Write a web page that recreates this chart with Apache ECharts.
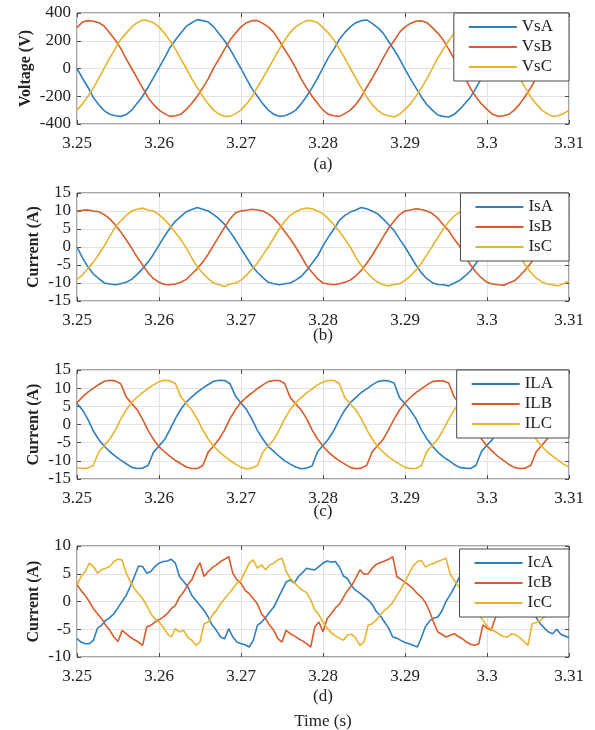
<!DOCTYPE html>
<html><head><meta charset="utf-8">
<script src="https://cdn.jsdelivr.net/npm/echarts@6/dist/echarts.min.js"></script>
<style>html,body{margin:0;padding:0;background:#fff}#c{width:595px;height:730px}</style>
</head><body><div id="c"></div>
<script>
// ---- sampling of the recorded traces ----
const tStart = 3.25;
const stepABC = 0.02 / 30;   // panels (a)-(c): 30 samples per 50 Hz cycle
const stepD = 0.0005;        // panel (d)
const xTicks = ['3.25','3.26','3.27','3.28','3.29','3.3','3.31'];

// ---- (a) source voltages (V) ----
const VsA = [0,-70,-135,-210,-262,-305,-330,-340,-345,-332,-300,-250,-200,-135,-65,5,75,150,205,255,305,330,352,345,335,300,250,200,140,70,
0,-75,-145,-200,-255,-300,-330,-345,-340,-325,-300,-255,-200,-140,-70,5,80,140,210,260,300,330,345,350,325,295,255,195,135,70,
-5,-75,-140,-205,-260,-300,-335,-345,-350,-330,-295,-250,-205,-140,-70,0,75,140,200,255,300,330,345,345,325,300,260,200,140,75,30];
const VsB = [295,335,345,340,330,305,255,205,145,70,0,-70,-140,-210,-260,-300,-325,-345,-340,-330,-295,-250,-200,-140,-75,5,70,140,205,255,
300,330,345,345,325,300,260,200,135,75,5,-75,-140,-200,-250,-300,-330,-340,-345,-325,-300,-260,-205,-135,-70,0,75,145,200,260,
300,325,340,345,330,295,255,205,140,70,0,-70,-145,-205,-255,-295,-330,-345,-340,-330,-300,-255,-200,-140,-70,5,70,140,205,255,290];
const VsC = [-300,-255,-200,-140,-70,5,75,145,210,255,300,330,350,345,330,300,255,200,140,70,0,-75,-140,-200,-255,-300,-330,-345,-345,-325,
-300,-255,-205,-135,-70,0,70,140,205,260,300,325,345,345,330,295,255,205,140,75,0,-70,-140,-205,-260,-300,-330,-340,-350,-330,
-295,-255,-200,-140,-75,0,75,140,200,255,300,330,345,340,330,300,250,200,140,70,5,-70,-140,-205,-255,-300,-325,-345,-340,-325,-300];

// ---- (b) source currents (A) ----
const IsA = [0,-3.0,-5.5,-7.5,-8.8,-10.0,-10.3,-10.5,-10.2,-9.8,-9.0,-7.6,-6.0,-4.2,-2.0,0.5,3.0,5.2,7.2,8.5,9.8,10.4,11.0,10.5,10.0,9.0,7.8,6.3,4.2,2.0,
-0.5,-2.8,-5.2,-7.0,-8.5,-9.8,-10.2,-10.5,-10.2,-10.0,-9.2,-8.2,-6.5,-4.5,-2.5,0.3,2.8,5.0,7.4,8.8,9.7,10.3,11.0,10.6,10.0,9.2,7.8,6.2,4.6,2.2,
0,-2.5,-5.0,-7.2,-8.8,-9.9,-10.4,-10.5,-10.8,-10.0,-9.3,-8.0,-6.6,-4.5,-2.2,0.2,2.6,5.2,7.0,8.6,9.8,10.4,10.8,10.5,10.0,9.4,8.0,6.4,4.4,2.4,0.2];
const IsB = [10.0,10.2,10.3,10.0,9.8,9.0,7.8,6.2,4.2,2.0,-0.3,-2.8,-5.0,-7.2,-8.8,-9.8,-10.4,-10.5,-10.3,-9.8,-9.0,-7.5,-6.0,-4.2,-2.0,0.5,3.0,5.5,7.8,9.5,
10.0,10.2,10.5,10.3,10.0,9.2,8.0,6.3,4.3,2.3,0,-2.5,-5.2,-7.0,-8.8,-10.0,-10.3,-10.5,-10.2,-9.8,-9.2,-8.0,-6.5,-4.5,-2.3,0.2,2.8,5.2,7.2,9.0,
10.0,10.3,10.6,10.4,10.0,9.3,8.0,6.2,4.5,2.2,0.2,-2.6,-5.0,-7.0,-8.6,-9.8,-10.3,-10.5,-10.6,-10.0,-9.4,-8.0,-6.4,-4.5,-2.3,0,2.6,5.0,7.0,8.6,9.7];
const IsC = [-9.0,-7.8,-6.0,-4.2,-2.0,0.3,3.0,5.5,7.3,8.8,10.0,10.5,10.8,10.3,10.0,9.0,7.6,6.0,4.0,2.0,-0.3,-3.0,-5.5,-7.2,-8.8,-10.0,-10.5,-11.0,-10.3,-10.0,
-9.2,-7.8,-6.2,-4.5,-2.2,0,2.5,5.0,7.2,8.8,9.8,10.5,10.8,10.6,10.0,9.2,7.8,6.2,4.3,2.2,0,-2.8,-5.2,-7.0,-8.6,-9.8,-10.5,-10.8,-10.4,-10.2,
-9.3,-8.0,-6.4,-4.5,-2.2,0.2,2.6,5.0,7.0,8.6,9.7,10.3,10.6,10.5,10.2,9.4,8.0,6.4,4.5,2.3,0,-2.6,-5.0,-7.0,-8.6,-9.7,-10.3,-10.5,-10.8,-10.2,-9.4];

// ---- (c) load currents (A) ----
const ILA = [5.8,4.0,1.4,-1.8,-4.2,-6.0,-7.5,-8.7,-9.8,-10.8,-11.8,-12.1,-12.0,-11.3,-7.6,-5.9,-4.2,-1.4,1.6,4.2,6.2,7.6,8.9,10.0,11.0,11.9,12.2,12.1,11.2,7.8,
5.9,4.1,1.5,-1.6,-4.0,-6.1,-7.4,-8.8,-10.0,-10.9,-11.7,-12.2,-12.0,-11.4,-7.5,-5.8,-4.0,-1.6,1.4,4.0,6.0,7.4,8.8,9.8,10.9,11.8,12.1,12.0,11.4,7.4,
5.7,3.9,1.6,-1.5,-3.9,-5.9,-7.6,-8.9,-9.9,-11.0,-11.8,-12.0,-12.1,-11.2,-7.4,-5.7,-4.1,-1.5,1.5,4.1,6.0,7.5,8.7,9.9,10.8,11.7,12.1,12.0,11.3,7.6,5.8];
const ILB = [6.0,7.6,8.9,10.0,11.0,11.9,12.2,12.0,11.2,7.6,5.8,4.1,1.4,-1.6,-4.1,-6.1,-7.5,-8.8,-9.9,-10.8,-11.7,-12.1,-12.1,-11.3,-7.6,-5.9,-4.0,-1.5,1.6,4.1,
6.1,7.5,8.7,9.9,10.9,11.8,12.1,12.1,11.3,7.4,5.7,4.0,1.6,-1.5,-4.0,-6.0,-7.6,-8.9,-10.0,-10.9,-11.8,-12.2,-12.0,-11.2,-7.5,-5.8,-4.1,-1.4,1.5,4.0,
5.9,7.5,8.8,9.8,10.9,11.8,12.0,12.0,11.4,7.5,5.9,4.0,1.5,-1.5,-4.0,-5.9,-7.4,-8.8,-9.9,-11.0,-11.8,-12.1,-12.0,-11.3,-7.5,-5.8,-4.0,-1.5,1.5,4.0,6.0];
const ILC = [-11.9,-12.1,-12.0,-11.2,-7.5,-5.8,-4.0,-1.6,1.5,4.0,6.1,7.5,8.8,9.9,10.9,11.8,12.2,12.0,11.3,7.6,5.8,4.0,1.5,-1.5,-4.0,-6.0,-7.5,-8.8,-9.9,-10.9,
-11.8,-12.2,-12.0,-11.3,-7.6,-5.9,-4.1,-1.5,1.6,4.1,6.0,7.4,8.7,9.8,10.9,11.7,12.1,12.1,11.2,7.4,5.7,4.0,1.6,-1.4,-4.0,-6.1,-7.6,-8.9,-10.0,-10.9,
-11.8,-12.1,-12.1,-11.3,-7.4,-5.7,-4.0,-1.5,1.4,4.0,5.9,7.5,8.9,9.9,10.8,11.8,12.0,12.0,11.3,7.5,5.9,4.1,1.5,-1.6,-4.1,-6.0,-7.5,-8.7,-9.8,-10.9,-11.8];

// ---- (d) compensating currents (A) ----
const IcA = [-6.7,-7.3,-7.6,-7.6,-7.0,-4.8,-4.3,-3.4,-2.9,-2.2,-1.1,0.0,1.1,2.7,4.5,6.4,6.3,5.1,5.4,6.3,6.9,7.2,7.3,7.6,6.9,4.5,3.6,2.7,1.1,0.2,
-0.7,-1.6,-2.8,-4.3,-5.2,-6.4,-6.7,-4.9,-6.4,-7.3,-7.6,-7.8,-8.2,-7.0,-4.3,-3.7,-2.9,-1.9,-1.0,0.5,2.0,3.5,3.9,3.3,4.5,5.2,6.0,5.8,5.7,6.3,
6.9,7.3,7.1,7.2,6.2,4.6,4.1,2.8,2.0,1.5,0.9,0.3,-0.5,-1.8,-2.6,-3.7,-4.8,-6.4,-6.6,-7.0,-7.4,-7.6,-7.9,-8.2,-6.5,-4.5,-3.5,-3.0,-2.8,-1.7,
0.0,1.2,2.5,4.0,5.5,6.5,6.2,5.2,5.6,6.4,6.9,7.1,7.3,7.5,6.5,4.6,3.8,2.5,1.2,0.2,-0.8,-1.8,-2.9,-4.0,-4.8,-5.5,-5.8,-5.0,-5.9,-6.2,-6.5];
const IcB = [3.0,2.0,1.1,0.0,-1.3,-2.2,-3.1,-4.3,-5.2,-6.4,-7.2,-5.2,-5.8,-6.4,-6.9,-7.3,-7.9,-4.6,-4.3,-3.7,-3.3,-2.8,-2.2,-1.3,-0.7,0.8,1.7,3.0,3.9,5.7,
7.0,4.5,5.4,6.1,6.6,7.2,7.6,8.1,5.1,3.9,3.3,2.0,1.4,0.5,-0.4,-2.2,-3.1,-4.3,-5.2,-6.7,-7.3,-5.2,-5.8,-6.2,-6.7,-7.1,-7.6,-8.2,-4.6,-3.7,
-5.5,-3.1,-2.2,-1.2,-0.5,0.8,2.0,2.9,4.2,5.7,4.9,5.0,6.0,6.7,7.0,7.3,7.6,8.1,4.5,4.0,3.5,2.9,2.3,1.4,0.8,-0.2,-1.8,-3.8,-5.5,-5.9,
-6.4,-6.1,-5.8,-6.3,-6.7,-7.3,-7.7,-7.9,-7.6,-4.2,-4.8,-5.2,-3.0,-1.8,-0.6,0.8,2.0,3.0,4.0,5.5,5.0,5.2,6.0,6.6,7.0,7.4,7.7,8.0,4.6,4.0,3.4];
const IcC = [3.0,4.5,5.4,6.9,6.3,5.1,5.7,6.0,6.3,7.2,7.6,7.5,5.1,3.6,2.3,1.4,0.5,-0.7,-2.2,-3.1,-3.7,-4.6,-5.8,-6.4,-4.9,-5.5,-5.2,-6.4,-7.0,-7.9,
-7.3,-4.0,-3.7,-2.5,-1.6,-0.4,0.5,1.4,2.3,3.3,3.9,5.4,6.9,7.5,6.0,6.6,5.7,6.6,6.9,7.5,7.8,5.4,4.2,3.4,2.6,2.0,1.6,0.3,-1.5,-2.4,
-3.7,-4.8,-5.6,-6.2,-6.6,-7.0,-6.0,-5.9,-6.6,-7.9,-7.3,-4.3,-4.0,-3.3,-2.4,-1.6,-1.0,-0.2,1.1,2.2,3.6,5.0,6.4,7.2,7.4,6.2,6.6,6.9,7.2,7.5,
7.8,5.0,3.8,2.8,2.0,1.2,0.3,-0.8,-2.2,-3.4,-4.4,-5.0,-5.4,-5.9,-6.3,-6.4,-5.8,-6.0,-6.5,-7.2,-7.9,-4.0,-3.8,-3.4,-2.8,-1.5,-0.5,0.5,1.4,2.0,2.6];

const panels = [
  {names:['VsA','VsB','VsC'], vals:[VsA,VsB,VsC], step:stepABC, yName:'Voltage (V)', yMin:-400, yMax:400, yInt:200, top:13, h:111, nameGap:43, cap:'(a)', capY:165},
  {names:['IsA','IsB','IsC'], vals:[IsA,IsB,IsC], step:stepABC, yName:'Current (A)', yMin:-15, yMax:15, yInt:5, top:193, h:108, nameGap:35, cap:'(b)', capY:336},
  {names:['ILA','ILB','ILC'], vals:[ILA,ILB,ILC], step:stepABC, yName:'Current (A)', yMin:-15, yMax:15, yInt:5, top:370, h:109, nameGap:35, cap:'(c)', capY:512},
  {names:['IcA','IcB','IcC'], vals:[IcA,IcB,IcC], step:stepD, yName:'Current (A)', yMin:-10, yMax:10, yInt:5, top:546, h:111, nameGap:35, cap:'(d)', capY:697}
];
const colors = ['#2f7fbf','#d95b2a','#e8b42e'];
const FONT = '"Liberation Serif", "Times New Roman", serif';
const plotLeft = 77, plotRight = 569;
const AX = '#4a4a4a';

const option = {
  animation:false,
  backgroundColor:'#fff',
  grid:[], xAxis:[], yAxis:[], series:[], legend:[], graphic:[]
};
panels.forEach((p, gi) => {
  option.grid.push({left:plotLeft, right:595-plotRight, top:p.top, height:p.h, show:true, borderColor:AX, borderWidth:1, backgroundColor:'#fff'});
  const xa = {type:'value', gridIndex:gi, min:3.25, max:3.31, interval:0.01, axisLine:{show:false, onZero:false}};
  option.xAxis.push(Object.assign({}, xa, {position:'bottom',
    axisTick:{inside:true, length:4, lineStyle:{color:AX}},
    splitLine:{show:true, lineStyle:{color:'#e2e2e2', width:1}},
    axisLabel:{color:'#222', fontFamily:FONT, fontSize:17, margin:11,
      formatter:v => xTicks[Math.round((v-3.25)*100)] || ''}}));
  option.xAxis.push(Object.assign({}, xa, {position:'top',
    axisTick:{inside:true, length:4, lineStyle:{color:AX}}, splitLine:{show:false}, axisLabel:{show:false}}));
  const ya = {type:'value', gridIndex:gi, min:p.yMin, max:p.yMax, interval:p.yInt, axisLine:{show:false, onZero:false}};
  option.yAxis.push(Object.assign({}, ya, {position:'left',
    name:p.yName, nameLocation:'middle', nameGap:p.nameGap, nameMoveOverlap:false,
    nameTextStyle:{fontFamily:FONT, fontSize:16, fontWeight:'bold', color:'#222'},
    axisTick:{inside:true, length:4, lineStyle:{color:AX}},
    splitLine:{show:true, lineStyle:{color:'#e2e2e2', width:1}},
    axisLabel:{color:'#222', fontFamily:FONT, fontSize:17, margin:6}}));
  option.yAxis.push(Object.assign({}, ya, {position:'right',
    axisTick:{inside:true, length:4, lineStyle:{color:AX}}, splitLine:{show:false}, axisLabel:{show:false}}));
  p.names.forEach((n, si) => {
    option.series.push({name:n, type:'line', xAxisIndex:gi*2, yAxisIndex:gi*2, symbol:'none',
      color:colors[si], lineStyle:{width:1.6, color:colors[si]},
      data:p.vals[si].map((v, i) => [tStart + i*p.step, v])});
  });
  option.legend.push({data:p.names, orient:'vertical', right:595-plotRight, top:p.top + (gi===3?3:0),
    backgroundColor:'#fff', borderColor:AX, borderWidth:1, borderRadius:0,
    icon:'rect', itemWidth:48, itemHeight:2,
    padding:[5,16,5,15], itemGap:2,
    textStyle:{fontFamily:FONT, fontSize:17, color:'#222', lineHeight:18}});
  option.graphic.push({type:'text', x:(plotLeft+plotRight)/2, y:p.capY,
    style:{text:p.cap, font:'17px ' + FONT, fill:'#222', textAlign:'center', textVerticalAlign:'middle'}});
});
option.graphic.push({type:'text', x:(plotLeft+plotRight)/2, y:722,
  style:{text:'Time (s)', font:'17px ' + FONT, fill:'#222', textAlign:'center', textVerticalAlign:'middle'}});

const chart = echarts.init(document.getElementById('c'), null, {renderer:'canvas'});
chart.setOption(option);
</script></body></html>
